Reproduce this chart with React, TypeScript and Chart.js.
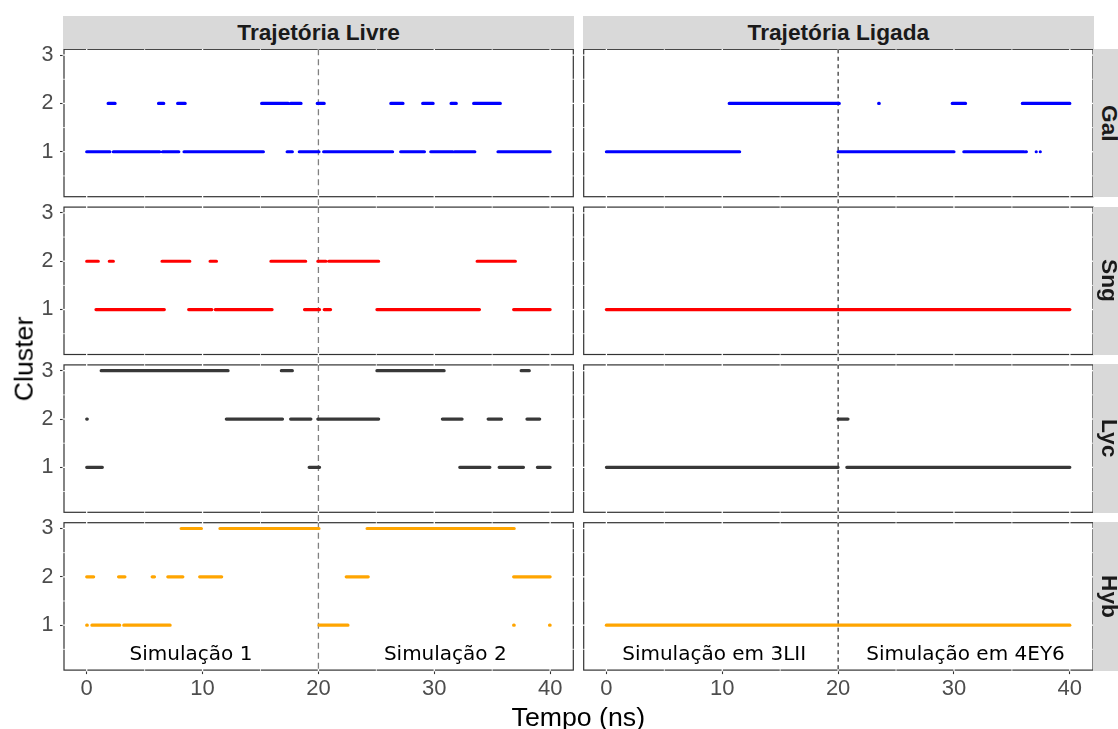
import React, { useEffect, useRef } from 'react';
import { Chart, registerables } from 'chart.js';

Chart.register(...registerables);

const W = 1118;
const H = 729;

// ---- tick / break values ----
const timeTicks = [0, 10, 20, 30, 40];
const timeMinor = [5, 15, 25, 35];
const clusterTicks = [1, 2, 3];
const clusterMinor = [0.5, 1.5, 2.5];
const splitTime = 20;

// ---- facet labels ----
const colNames = ['Trajetória Livre', 'Trajetória Ligada'];
const rowNames = ['Gal', 'Sng', 'Lyc', 'Hyb'];
const rowColors = ['#0000FF', '#FF0000', '#383838', '#FFA500'];

// ---- annotation labels (bottom row) ----
const annotationTexts = [
  ['Simulação 1', 'Simulação 2'],
  ['Simulação em 3LII', 'Simulação em 4EY6'],
];
const annotationX = [
  [9.0, 30.95],
  [9.3, 31.0],
];
const annotationY = 0.39;

type Seg = [number, number];

// ---- data: time intervals (ns) spent in each cluster ----
// Gal
const livreGal1: Seg[] = [[0, 2.0], [2.3, 6.3], [6.55, 7.95], [8.4, 15.25], [17.3, 17.75], [18.35, 20.05], [20.45, 26.4], [27.1, 29.15], [29.7, 31.6], [31.75, 33.5], [35.5, 40]];
const livreGal2: Seg[] = [[1.85, 2.45], [6.2, 6.65], [7.85, 8.5], [15.1, 17.4], [17.6, 18.5], [19.9, 20.5], [26.25, 27.3], [29.0, 29.9], [31.45, 31.9], [33.4, 35.7]];
const ligadaGal1: Seg[] = [[0, 11.5], [20, 30], [30.85, 36.05], [36.2, 36.25], [37.1, 37.15], [37.45, 37.5]];
const ligadaGal2: Seg[] = [[10.6, 20.1], [23.5, 23.55], [29.85, 31.0], [35.9, 40]];
// Sng
const livreSng1: Seg[] = [[0.8, 6.7], [8.8, 10.8], [11.1, 16.0], [18.8, 20.1], [20.5, 21.05], [25.05, 33.9], [36.85, 40]];
const livreSng2: Seg[] = [[0, 1.0], [1.95, 2.3], [6.5, 8.9], [10.65, 11.2], [15.9, 18.9], [19.95, 20.65], [20.9, 25.2], [33.7, 37.0]];
const ligadaSng1: Seg[] = [[0, 40]];
// Lyc
const livreLyc1: Seg[] = [[0, 1.35], [19.2, 20.1], [32.2, 34.8], [35.6, 37.7], [38.9, 40]];
const livreLyc2: Seg[] = [[0, 0.05], [12.05, 16.9], [17.6, 19.35], [19.95, 25.2], [30.7, 32.4], [34.65, 35.8], [38.0, 39.1]];
const livreLyc3: Seg[] = [[1.25, 12.2], [16.8, 17.75], [25.05, 30.85], [37.5, 38.2]];
const ligadaLyc1: Seg[] = [[0, 20.0], [20.75, 40]];
const ligadaLyc2: Seg[] = [[20.0, 20.85]];
// Hyb
const livreHyb1: Seg[] = [[0, 0.05], [0.45, 2.85], [3.2, 7.2], [20.05, 22.55], [36.85, 36.9], [39.95, 40]];
const livreHyb2: Seg[] = [[0, 0.6], [2.75, 3.3], [5.65, 5.85], [7.0, 8.3], [9.75, 11.65], [22.4, 24.3], [36.85, 40]];
const livreHyb3: Seg[] = [[8.15, 9.9], [11.5, 20.05], [24.2, 36.9]];
const ligadaHyb1: Seg[] = [[0, 40]];

type Panel = { row: number; col: number; levels: [number, Seg[]][] };

const panels: Panel[] = [
  { row: 0, col: 0, levels: [[1, livreGal1], [2, livreGal2]] },
  { row: 0, col: 1, levels: [[1, ligadaGal1], [2, ligadaGal2]] },
  { row: 1, col: 0, levels: [[1, livreSng1], [2, livreSng2]] },
  { row: 1, col: 1, levels: [[1, ligadaSng1]] },
  { row: 2, col: 0, levels: [[1, livreLyc1], [2, livreLyc2], [3, livreLyc3]] },
  { row: 2, col: 1, levels: [[1, ligadaLyc1], [2, ligadaLyc2]] },
  { row: 3, col: 0, levels: [[1, livreHyb1], [2, livreHyb2], [3, livreHyb3]] },
  { row: 3, col: 1, levels: [[1, ligadaHyb1]] },
];

// ---- layout ----
const colLeft = [64, 583.7];
const colWidth = 509.3;
const rowTop0 = 49.3;
const rowStep = 157.8;
const rowHeight = 147.4;
const xMin = -1.96;
const xMax = 42;
const yMin = 0.07;
const yMax = 3.12;
const xAxisBand = 45;

const FONT = '"Liberation Sans", Arial, Helvetica, sans-serif';

function toPoints(level: number, segs: Seg[]) {
  const out: { x: number; y: number | null }[] = [];
  for (const [a, b] of segs) {
    out.push({ x: a, y: level }, { x: b, y: level }, { x: b, y: null });
  }
  return out;
}

const decoPlugin = {
  id: 'panelDeco',
  beforeDatasetsDraw(chart: any, _args: any, opts: any) {
    const { ctx, chartArea: a, scales } = chart;
    const x = scales.x;
    const y = scales.y;
    ctx.save();
    ctx.strokeStyle = '#333333';
    ctx.lineWidth = 1.2;
    ctx.strokeRect(a.left, a.top, a.right - a.left, a.bottom - a.top);
    // white grid lines showing through the border
    ctx.strokeStyle = '#ffffff';
    const seg = (x1: number, y1: number, x2: number, y2: number) => {
      ctx.beginPath();
      ctx.moveTo(x1, y1);
      ctx.lineTo(x2, y2);
      ctx.stroke();
    };
    const xs = [...timeTicks.map((v) => [v, 1.3]), ...timeMinor.map((v) => [v, 0.8])];
    for (const [v, lw] of xs) {
      const px = x.getPixelForValue(v);
      ctx.lineWidth = lw;
      seg(px, a.top - 1.5, px, a.top + 1.5);
      seg(px, a.bottom - 1.5, px, a.bottom + 1.5);
    }
    const ys = [...clusterTicks.map((v) => [v, 1.3]), ...clusterMinor.map((v) => [v, 0.8])];
    for (const [v, lw] of ys) {
      const py = y.getPixelForValue(v);
      ctx.lineWidth = lw;
      seg(a.left - 1.5, py, a.left + 1.5, py);
      seg(a.right - 1.5, py, a.right + 1.5, py);
    }
    // dashed separator between simulations
    const vx = x.getPixelForValue(splitTime);
    ctx.strokeStyle = opts.vColor;
    ctx.lineWidth = opts.vWidth;
    ctx.setLineDash(opts.vDash);
    seg(vx, a.top, vx, a.bottom + opts.vExtend);
    ctx.restore();
  },
  afterDatasetsDraw(chart: any, _args: any, opts: any) {
    if (!opts.labels) return;
    const { ctx, scales } = chart;
    ctx.save();
    ctx.fillStyle = '#000000';
    ctx.font = '20px "DejaVu Sans", sans-serif';
    ctx.textAlign = 'center';
    ctx.textBaseline = 'middle';
    opts.labels.forEach((t: string, i: number) => {
      ctx.fillText(t, scales.x.getPixelForValue(opts.labelX[i]), scales.y.getPixelForValue(annotationY));
    });
    ctx.restore();
  },
};

function makeChart(canvas: HTMLCanvasElement, p: Panel) {
  const left = colLeft[p.col];
  const right = left + colWidth;
  const top = rowTop0 + p.row * rowStep;
  const bottom = top + rowHeight;
  const isBottom = p.row === 3;
  const isLeft = p.col === 0;
  const yAxisWidth = isLeft ? left : 0;
  const xAxisHeight = isBottom ? xAxisBand : 0;
  const datasets = p.levels.map(([lvl, segs]) => ({
    data: toPoints(lvl, segs),
    borderColor: rowColors[p.row],
    backgroundColor: rowColors[p.row],
    borderWidth: 3.2,
    borderCapStyle: 'round',
    pointRadius: 0,
    pointHoverRadius: 0,
    spanGaps: false,
    tension: 0,
    fill: false,
  }));
  return new Chart(canvas, {
    type: 'line',
    data: { datasets } as any,
    options: {
      responsive: false,
      animation: false,
      devicePixelRatio: 1,
      events: [],
      layout: {
        padding: {
          left: left - yAxisWidth,
          top,
          right: W - right,
          bottom: H - bottom - xAxisHeight,
        },
      },
      plugins: {
        legend: { display: false },
        tooltip: { enabled: false },
        panelDeco: {
          vColor: isLeft ? '#808080' : '#000000',
          vWidth: isLeft ? 1.3 : 1,
          vDash: isLeft ? [6, 4] : [4, 3.5],
          vExtend: isBottom ? 0 : rowStep - rowHeight,
          labels: isBottom ? annotationTexts[p.col] : null,
          labelX: annotationX[p.col],
        },
      } as any,
      scales: {
        x: {
          type: 'linear',
          min: xMin,
          max: xMax,
          afterFit: (s: any) => {
            s.height = xAxisHeight;
          },
          afterBuildTicks: (s: any) => {
            s.ticks = timeTicks.map((v) => ({ value: v }));
          },
          ticks: {
            display: isBottom,
            autoSkip: false,
            maxRotation: 0,
            padding: 2,
            color: '#4D4D4D',
            font: { family: FONT, size: 22 },
          },
          grid: {
            display: isBottom,
            drawOnChartArea: false,
            drawTicks: true,
            tickLength: 4,
            tickColor: '#333333',
            tickWidth: 1.1,
          },
          border: { display: false },
        },
        y: {
          type: 'linear',
          min: yMin,
          max: yMax,
          afterFit: (s: any) => {
            s.width = yAxisWidth;
          },
          afterBuildTicks: (s: any) => {
            s.ticks = clusterTicks.map((v) => ({ value: v }));
          },
          ticks: {
            display: isLeft,
            autoSkip: false,
            padding: 6.5,
            color: '#4D4D4D',
            font: { family: FONT, size: 21.5 },
          },
          grid: {
            display: isLeft,
            drawOnChartArea: false,
            drawTicks: true,
            tickLength: 4,
            tickColor: '#333333',
            tickWidth: 1.1,
          },
          border: { display: false },
        },
      },
    } as any,
    plugins: [decoPlugin as any],
  });
}

export default function App() {
  const refs = useRef<(HTMLCanvasElement | null)[]>([]);

  useEffect(() => {
    const charts = panels.map((p, i) => makeChart(refs.current[i] as HTMLCanvasElement, p));
    return () => charts.forEach((c) => c.destroy());
  }, []);

  const stripText: React.CSSProperties = {
    fontFamily: FONT,
    fontWeight: 'bold',
    fontSize: 22.7,
    color: '#1A1A1A',
    background: '#D9D9D9',
    position: 'absolute',
    display: 'flex',
    alignItems: 'center',
    justifyContent: 'center',
    whiteSpace: 'nowrap',
  };

  return (
    <div
      style={{
        position: 'absolute',
        left: 0,
        top: 0,
        width: W,
        height: H,
        overflow: 'hidden',
        background: '#ffffff',
      }}
    >
      {panels.map((_, i) => (
        <canvas
          key={i}
          ref={(el) => {
            refs.current[i] = el;
          }}
          width={W}
          height={H}
          style={{ position: 'absolute', left: 0, top: 0, width: W, height: H }}
        />
      ))}
      {colNames.map((name, c) => (
        <div
          key={name}
          style={{
            ...stripText,
            left: colLeft[c] - 0.6,
            top: 15.7,
            width: colWidth + 1.2,
            height: rowTop0 - 15.7,
          }}
        >
          {name}
        </div>
      ))}
      {rowNames.map((name, r) => (
        <div
          key={name}
          style={{
            ...stripText,
            left: colLeft[1] + colWidth,
            top: rowTop0 + r * rowStep - 0.6,
            width: 33,
            height: rowHeight + 1.2,
            writingMode: 'vertical-rl',
          }}
        >
          {name}
        </div>
      ))}
      <div
        style={{
          position: 'absolute',
          left: 24,
          top: 359,
          transform: 'translate(-50%, -50%) rotate(-90deg)',
          fontFamily: FONT,
          fontSize: 26.7,
          color: '#000000',
          whiteSpace: 'nowrap',
          lineHeight: 1.15,
        }}
      >
        Cluster
      </div>
      <div
        style={{
          position: 'absolute',
          left: 578.3,
          top: 717,
          transform: 'translate(-50%, -50%)',
          fontFamily: FONT,
          fontSize: 26.7,
          color: '#000000',
          whiteSpace: 'nowrap',
          lineHeight: 1.15,
        }}
      >
        Tempo (ns)
      </div>
    </div>
  );
}
